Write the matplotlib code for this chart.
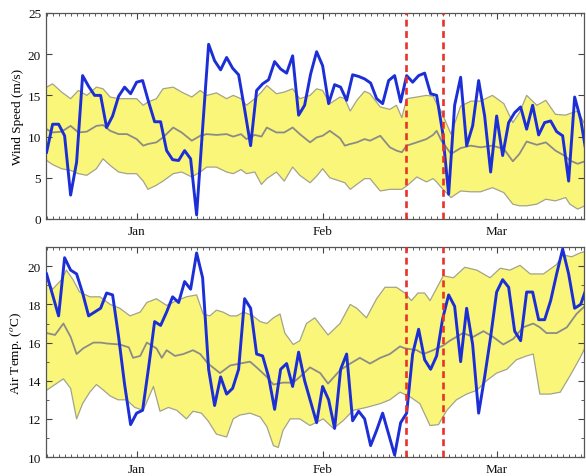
import numpy as np
import matplotlib
matplotlib.use("Agg")
from matplotlib import pyplot as plt
from matplotlib.ticker import MultipleLocator, FixedLocator

plt.rcParams['font.family'] = ['Liberation Serif', 'DejaVu Serif']
plt.rcParams['mathtext.fontset'] = 'stix'
plt.rcParams['font.size'] = 9.5

# days counted from 1 Jan (Feb 1 = 31, Mar 1 = 60)
days = np.arange(-15, 76)
month_ticks = [0, 31, 60]
month_labels = ["Jan", "Feb", "Mar"]
event_days = [44.9, 51]

# observed wind speed (m/s), one value per day
wind_obs = [8.1, 11.5, 11.5, 10.1, 2.9, 6.9, 17.4, 16.1, 15.0, 15.0,
            11.1, 12.5, 14.9, 16.0, 15.2, 16.6, 16.8, 14.2, 11.8, 11.8,
            8.3, 7.2, 7.1, 8.3, 7.3, 0.5, 11.0, 21.2, 19.2, 18.1,
            19.6, 18.3, 17.5, 13.3, 8.9, 15.6, 16.4, 16.9, 19.1, 18.2,
            17.7, 19.8, 12.6, 13.8, 17.6, 20.3, 18.6, 14.0, 16.3, 16.0,
            14.4, 17.5, 17.3, 17.0, 16.5, 14.6, 14.0, 16.8, 17.4, 14.2,
            17.4, 16.6, 17.4, 17.7, 15.2, 15.0, 10.5, 3.0, 13.8, 17.2,
            8.9, 11.3, 16.8, 12.5, 5.7, 12.5, 7.7, 11.7, 12.9, 13.6,
            10.9, 13.8, 10.2, 11.7, 11.9, 10.6, 10.1, 4.6, 14.8, 12.1,
            7.7]

# observed air temperature (C), one value per day
temp_obs = [19.6, 18.5, 17.4, 20.45, 19.8, 19.6, 18.6, 17.4, 17.6, 17.8,
            18.6, 18.5, 16.3, 13.8, 11.7, 12.3, 12.45, 14.7, 17.1, 16.9,
            17.6, 18.4, 18.1, 19.2, 18.8, 20.7, 19.4, 14.6, 12.7, 14.2,
            13.3, 13.6, 14.6, 18.3, 17.8, 15.4, 15.3, 14.2, 12.5, 14.6,
            14.9, 13.7, 15.5, 14.0, 12.9, 11.8, 13.7, 13.0, 11.5, 14.6,
            15.4, 11.9, 12.4, 12.0, 10.6, 11.4, 12.3, 11.2, 10.1, 11.8,
            12.3, 15.4, 16.7, 15.1, 14.6, 15.3, 17.25, 18.5, 17.9, 15.0,
            17.8, 15.9, 12.3, 14.2, 16.3, 18.65, 19.3, 18.9, 16.6, 16.1,
            18.65, 18.65, 17.2, 17.2, 18.2, 19.6, 20.9, 19.6, 17.8, 18.0,
            18.9]

# wind speed envelope (upper / median / lower)
wind_band_days = [-15, -14, -12.5, -11, -9.7, -8.3, -6.7, -5.6, -4.4, -3,
                  -1.6, 0, 1.1, 1.9, 3.3, 4.4, 6.1, 7.5, 9.2, 10.6,
                  11.7, 13.3, 15, 16.1, 17.4, 18.3, 19.7, 20.8, 21.7, 23.3,
                  24.6, 26, 27.2, 28.9, 30, 31, 32.2, 33.9, 34.7, 35.6,
                  36.7, 38, 38.9, 40.6, 42.2, 43.3, 44.2, 45, 46.7, 48.3,
                  49.4, 50, 50.8, 52.4, 54, 55.7, 57.3, 59.3, 61.2, 62.7,
                  63.8, 65, 66.7, 68.2, 69.8, 71.5, 72.2, 73.5, 74.7]
wind_hi = [16.0, 16.4, 15.4, 14.6, 15.6, 15.0, 16.0, 15.8, 14.8, 14.6,
           14.6, 14.6, 13.8, 14.2, 14.6, 15.8, 16.0, 15.4, 14.8, 15.6,
           15.0, 15.3, 14.6, 15.0, 14.6, 13.8, 14.6, 15.4, 16.2, 15.2,
           15.4, 15.8, 14.6, 15.0, 15.8, 15.6, 14.0, 14.8, 14.6, 13.1,
           14.4, 15.5, 15.2, 13.6, 13.3, 13.8, 12.3, 14.6, 14.8, 15.0,
           14.9, 14.0, 13.0, 10.3, 13.7, 14.3, 14.3, 15.0, 14.0, 11.7,
           12.9, 15.0, 13.8, 14.4, 12.7, 12.6, 12.8, 13.1, 11.5]
wind_mid = [10.9, 10.5, 10.6, 11.3, 10.5, 10.6, 11.3, 11.4, 10.7, 10.3,
            10.3, 9.7, 8.9, 9.1, 9.3, 9.9, 11.1, 10.5, 9.5, 10.1,
            10.3, 10.2, 10.3, 10.0, 10.3, 9.7, 10.2, 10.0, 11.1, 10.5,
            10.5, 11.1, 10.3, 9.3, 9.9, 10.1, 10.7, 9.8, 8.9, 9.1,
            9.3, 9.7, 9.5, 10.1, 8.7, 8.3, 8.1, 8.9, 9.3, 9.7,
            10.2, 10.7, 9.5, 7.9, 8.6, 8.9, 8.7, 8.9, 8.5, 7.0,
            7.9, 9.4, 9.0, 9.3, 8.3, 7.6, 7.1, 6.7, 7.0]
wind_lo = [7.1, 6.6, 6.1, 5.9, 5.5, 5.3, 6.1, 7.3, 6.5, 5.7,
           5.5, 5.5, 4.6, 3.6, 4.1, 4.6, 5.5, 5.7, 5.1, 5.7,
           6.3, 6.3, 5.7, 5.5, 6.0, 5.5, 5.7, 4.2, 4.9, 5.7,
           4.6, 6.3, 5.3, 4.4, 5.2, 6.1, 5.0, 4.6, 4.4, 3.6,
           4.2, 4.9, 4.9, 3.4, 3.6, 3.6, 3.6, 4.0, 5.1, 4.5,
           4.9, 4.5, 3.8, 2.6, 3.4, 3.3, 3.3, 3.8, 3.2, 1.8,
           1.6, 1.6, 1.8, 2.4, 2.2, 2.6, 1.8, 1.2, 1.6]

# air temperature envelope, each edge read separately
temp_hi_days = [-15, -14, -12.5, -11.7, -10.6, -9.5, -7.8, -6.1, -4.4, -2.8,
                -1.1, 0.6, 1.7, 3.3, 5, 6.7, 8.3, 10, 11.1, 12.2,
                13.3, 14.4, 15.6, 16.7, 17.8, 19.4, 20.6, 21.7, 22.8, 23.9,
                24.7, 26.1, 27.2, 28.3, 29.7, 31.9, 33.9, 35.6, 36.7, 38.3,
                40, 41.4, 43.3, 44.7, 45.8, 46.9, 48, 48.9, 51.1, 52.8,
                54.7, 56.7, 58.9, 60.6, 62.2, 63.9, 65.6, 67.8, 70, 71,
                72.5, 73.9, 75]
temp_hi = [19.3, 18.8, 19.3, 19.8, 19.3, 18.65, 18.4, 18.4, 18.0, 17.8,
           17.4, 17.6, 18.1, 18.3, 17.95, 18.2, 18.4, 18.5, 17.5, 17.4,
           17.7, 17.6, 17.4, 17.4, 17.6, 17.4, 17.1, 17.0, 17.3, 17.5,
           16.5, 15.9, 16.1, 17.0, 17.3, 16.4, 17.0, 18.0, 17.8, 17.3,
           18.3, 18.9, 18.9, 18.6, 18.2, 18.6, 18.6, 18.2, 19.5, 19.4,
           19.95, 19.8, 19.4, 19.9, 19.8, 20.05, 19.6, 19.6, 20.1, 20.6,
           20.5, 20.7, 20.8]
temp_mid_days = [-15, -13.6, -12.2, -11, -10, -8.9, -7.2, -6, -4.9, -2.8,
                 -1.3, -0.6, 0.6, 1.7, 3.3, 4.2, 5, 6.4, 7.8, 9.4,
                 10.6, 11.9, 13.9, 15.6, 17.2, 18.9, 20, 21.7, 22.8, 24.4,
                 26.1, 27.2, 28.9, 30.6, 31.9, 33.9, 35.6, 37.2, 38.9, 40.6,
                 42.2, 43.9, 44.7, 46.7, 47.8, 49.4, 51.1, 52.2, 54.4, 56.1,
                 57.8, 59.4, 61.1, 62.8, 64.4, 66.1, 67.2, 68.3, 70, 71.7,
                 73.3, 75]
temp_mid = [16.5, 16.4, 17.0, 16.3, 15.4, 15.7, 16.0, 16.0, 15.95, 15.9,
            15.75, 15.2, 15.3, 16.0, 15.7, 15.2, 15.6, 15.3, 15.4, 15.6,
            15.4, 14.9, 14.4, 14.8, 14.9, 15.0, 14.7, 14.2, 13.8, 13.9,
            13.9, 14.2, 14.7, 14.4, 13.85, 14.55, 14.9, 15.2, 14.9, 15.2,
            15.4, 15.8, 15.7, 15.6, 15.4, 15.6, 15.85, 16.1, 16.5, 16.3,
            16.6, 16.3, 15.9, 16.2, 16.8, 17.0, 16.8, 16.5, 16.5, 16.8,
            17.5, 18.0]
temp_lo_days = [-15, -13.6, -12.2, -11, -10, -9, -7.8, -6.7, -5.5, -4.4,
                -3.1, -1.7, -0.3, 1.1, 2.8, 3.9, 5.3, 6.7, 8.3, 9.4,
                10.8, 11.9, 13.3, 15, 16.1, 17.2, 18.9, 20.6, 21.7, 22.8,
                23.6, 24.4, 25.6, 27.2, 28.9, 31.1, 32.8, 34.4, 36.1, 38.3,
                40.6, 42.2, 43.9, 45.6, 47.2, 48.9, 50.3, 51.7, 53.3, 55,
                56.7, 58.3, 60, 61.7, 63.3, 65, 66.1, 67.2, 68.9, 70.6,
                72.3, 73.9, 75]
temp_lo = [13.5, 13.8, 14.1, 13.6, 12.0, 12.8, 13.4, 13.8, 13.5, 13.2,
           13.0, 13.0, 12.6, 12.45, 13.7, 12.4, 12.6, 12.45, 12.0, 12.4,
           12.3, 11.9, 11.2, 11.05, 12.0, 12.2, 12.3, 12.1, 11.6, 10.6,
           10.5, 11.4, 12.0, 12.0, 11.65, 12.0, 11.5, 11.9, 12.45, 12.6,
           12.8, 13.0, 13.4, 13.15, 12.8, 11.65, 11.7, 12.45, 13.0, 13.3,
           13.5, 14.0, 14.4, 14.6, 15.1, 15.3, 15.4, 13.3, 13.3, 13.4,
           14.3, 15.2, 15.9]

BLUE = '#1c2fd6'
YELLOW = '#faf67a'
EDGE = '#a3a38c'
MEDIAN = '#8c8c86'
RED = '#e8322a'


def draw_band(ax, hi_d, hi_v, mid_d, mid_v, lo_d, lo_v):
    """ yellow envelope with thin grey edges and a grey median line """
    xs = np.concatenate([hi_d, lo_d[::-1]])
    ys = np.concatenate([hi_v, lo_v[::-1]])
    ax.fill(xs, ys, facecolor=YELLOW, edgecolor='none', zorder=1)
    ax.plot(hi_d, hi_v, color=EDGE, lw=0.9, zorder=2)
    ax.plot(lo_d, lo_v, color=EDGE, lw=0.9, zorder=2)
    ax.plot(mid_d, mid_v, color=MEDIAN, lw=1.3, zorder=2)


def style_axis(ax):
    ax.set_xlim(-15.1, 74.55)
    ax.xaxis.set_major_locator(FixedLocator(month_ticks))
    ax.set_xticklabels(month_labels)
    ax.xaxis.set_minor_locator(MultipleLocator(1))
    ax.tick_params(which='both', direction='in', top=True, right=True,
                   colors='#444444', labelcolor='#111111')
    ax.tick_params(which='major', length=4.5, width=0.8)
    ax.tick_params(which='minor', length=2.2, width=0.6)
    ax.tick_params(axis='x', pad=4)
    for s in ax.spines.values():
        s.set_color('#555555')
        s.set_linewidth(0.9)
    for d in event_days:
        ax.axvline(d, color=RED, lw=1.9, ls=(0, (2.6, 1.7)), zorder=4)


fig = plt.figure(figsize=(5.86, 4.77), dpi=100)
ax1 = fig.add_axes([0.0785, 0.5388, 0.918, 0.4319])
ax2 = fig.add_axes([0.0785, 0.0398, 0.918, 0.4398])

# wind speed panel
wb = np.array(wind_band_days)
draw_band(ax1, wb, np.array(wind_hi), wb, np.array(wind_mid), wb, np.array(wind_lo))
ax1.plot(days, wind_obs, color=BLUE, lw=2.1, zorder=3)
ax1.set_ylim(0, 25)
ax1.yaxis.set_major_locator(MultipleLocator(5))
ax1.set_ylabel("Wind Speed (m/s)", labelpad=3)
style_axis(ax1)

# air temperature panel
draw_band(ax2, np.array(temp_hi_days), np.array(temp_hi),
          np.array(temp_mid_days), np.array(temp_mid),
          np.array(temp_lo_days), np.array(temp_lo))
ax2.plot(days, temp_obs, color=BLUE, lw=2.1, zorder=3)
ax2.set_ylim(10, 21)
ax2.yaxis.set_major_locator(MultipleLocator(2))
ax2.yaxis.set_minor_locator(MultipleLocator(1))
ax2.set_ylabel(r"Air Temp. ($^o$C)", labelpad=3)
style_axis(ax2)

fig.savefig("out.png", dpi=100)
